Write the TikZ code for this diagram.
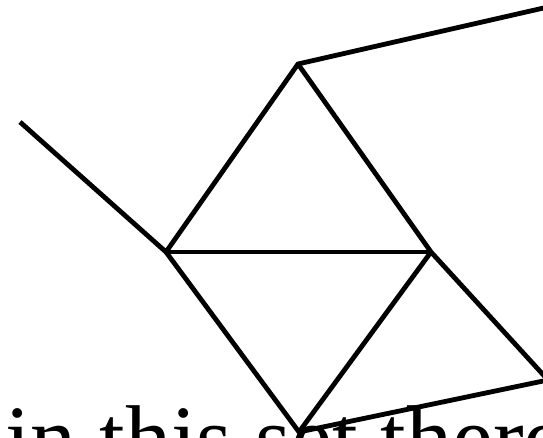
\documentclass[tikz,border=0pt]{standalone}
\usepackage{fontspec}
\setmainfont{Liberation Serif}
\usetikzlibrary{positioning}

\begin{document}
\begin{tikzpicture}[
  x=1pt, y=-1pt,
  edge/.style={draw, line width=4.8pt, line join=miter},
  caption/.style={anchor=base west, inner sep=0pt, font=\fontsize{92}{100}\selectfont},
]
\clip (0,0) rectangle (543,438);
\useasboundingbox (0,0) rectangle (543,438);
\coordinate (tail) at (20,122);
\coordinate (lft) at (166,252);
\coordinate (top) at (298,64);
\coordinate (rgt) at (431,252);
\coordinate (bot) at (299,432);
\coordinate (ne) at (548,7);
\coordinate (se) at (548,380);

\draw[edge] (tail) -- (lft) -- (top) -- (ne);
\draw[edge] (top) -- (rgt) -- (se);
\draw[edge] (lft) -- (rgt);
\draw[edge] (lft) -- (bot) -- (rgt);
\draw[edge] (bot) -- (se);

\node[caption] (text) at (5,469) {in this set there};
\end{tikzpicture}
\end{document}
